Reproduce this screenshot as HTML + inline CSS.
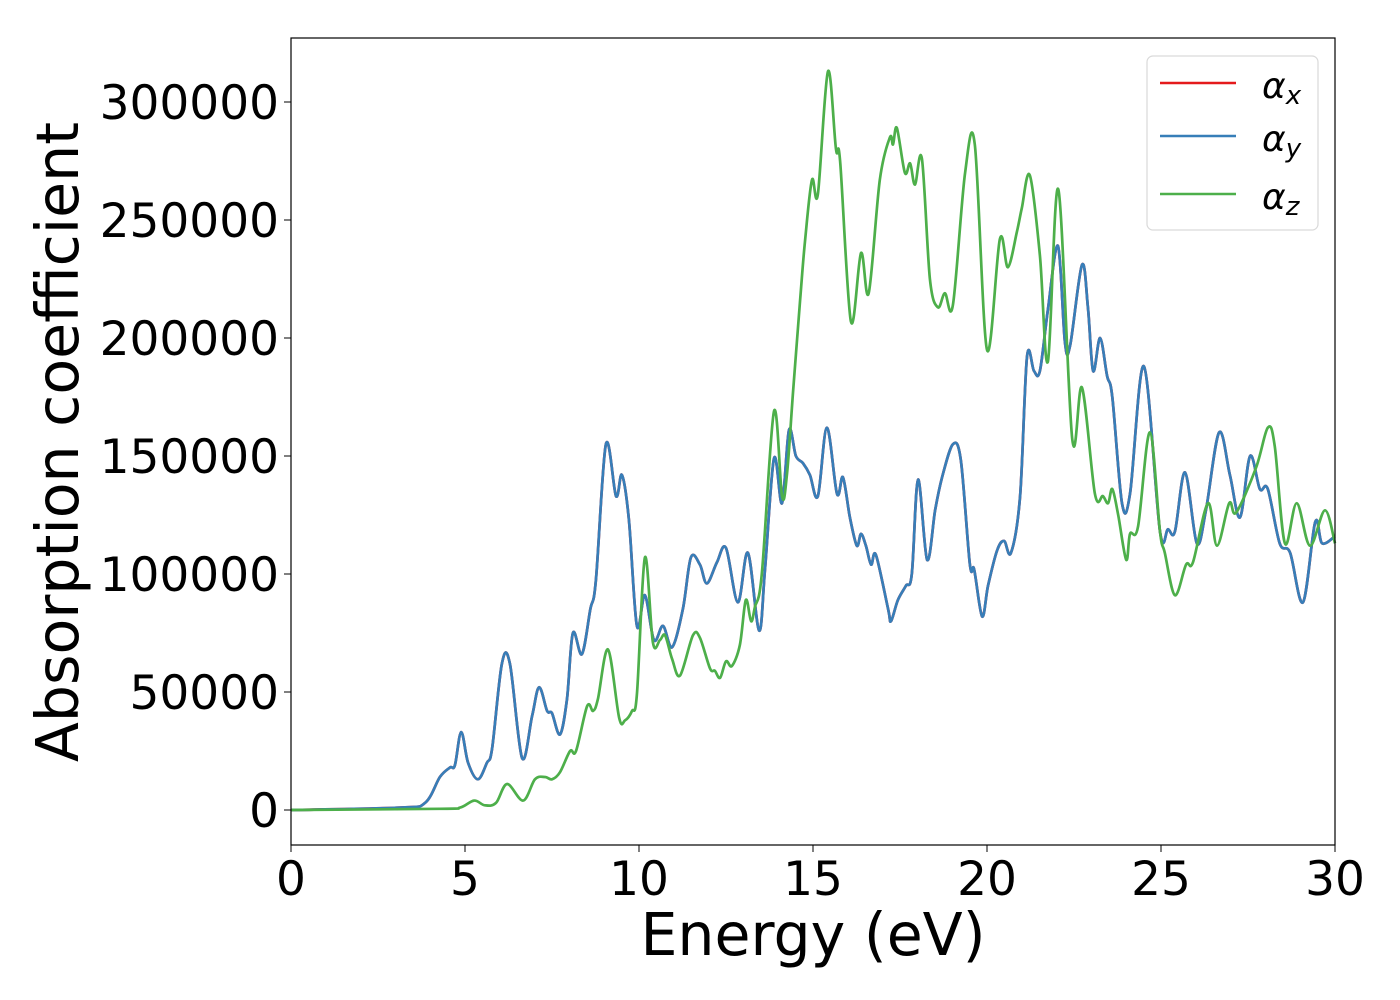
<!DOCTYPE html>
<html><head><meta charset="utf-8"><style>
body{margin:0;background:#fff;}
svg{display:block;font-family:"DejaVu Sans","Liberation Sans",sans-serif;}
</style></head><body>
<svg id="chart" width="1400" height="1000" viewBox="0 0 1400 1000" xmlns="http://www.w3.org/2000/svg">
<rect width="1400" height="1000" fill="#fff"/>
<g id="plot"></g>
<rect x="291" y="38" width="1044" height="807" fill="none" stroke="#000" stroke-width="1.2"/>
<g id="xticks"></g>
<g id="yticks"></g>
<text x="813" y="955" font-size="58.5" text-anchor="middle">Energy (eV)</text>
<text transform="translate(78,442) rotate(-90)" font-size="58.5" text-anchor="middle">Absorption coefficient</text>
<g>
<rect x="1147" y="56" width="171" height="174" rx="6" fill="#fff" fill-opacity="0.8" stroke="#d9d9d9" stroke-width="1.2"/>
<line x1="1160" y1="83" x2="1236" y2="83" stroke="#e41a1c" stroke-width="2.5"/>
<line x1="1160" y1="136" x2="1236" y2="136" stroke="#377eb8" stroke-width="2.5"/>
<line x1="1160" y1="194" x2="1236" y2="194" stroke="#4daf4a" stroke-width="2.5"/>
<text x="1262" y="98" font-size="36" font-style="italic">α<tspan font-size="26" dy="6">x</tspan></text>
<text x="1262" y="151" font-size="36" font-style="italic">α<tspan font-size="26" dy="6">y</tspan></text>
<text x="1262" y="209" font-size="36" font-style="italic">α<tspan font-size="26" dy="6">z</tspan></text>
</g>
</svg>
<script>
const xTicks=[0,5,10,15,20,25,30];
const yTicks=[0,50000,100000,150000,200000,250000,300000];
const energyXY=[0,3.13,3.85,4.28,4.57,4.71,4.89,5.09,5.37,5.63,5.78,6.06,6.29,6.64,6.93,7.13,7.36,7.5,7.73,7.93,8.1,8.36,8.6,8.76,9.05,9.34,9.51,9.71,9.94,10.17,10.43,10.69,10.95,11.26,11.49,11.75,11.95,12.24,12.5,12.84,13.13,13.45,13.62,13.88,14.11,14.31,14.51,14.71,14.91,15.14,15.4,15.69,15.86,16.06,16.26,16.38,16.52,16.67,16.81,17.16,17.24,17.44,17.67,17.84,18.02,18.28,18.51,18.71,19.02,19.25,19.51,19.63,19.86,20.03,20.29,20.49,20.69,20.95,21.15,21.35,21.52,21.75,22.04,22.24,22.39,22.73,22.9,23.05,23.25,23.45,23.6,23.88,24.11,24.51,24.97,25.2,25.4,25.69,26.03,26.29,26.67,26.98,27.27,27.56,27.84,28.07,28.41,28.71,29.08,29.43,29.63,30];
const alphaY=[0,1,3,14,18,19,33,20,13,20,26,62,62,22,40,52,42,41,32,47,75,66,85,97,155,133,142,123,78,91,72,78,69,85,107,104,96,105,111,88,109,76,102,149,130,161,150,147,142,133,162,134,141,124,112,117,112,104,108,85,80,89,95,100,140,106,127,141,155,148,104,102,82,95,110,114,109,133,192,186,186,212,239,198,197,231,213,186,200,184,175,130,134,188,118,119,118,143,113,127,160,142,124,150,136,136,113,109,88,122,113,116];
const alphaX=alphaY.slice();
const energyZ=[0,4.28,4.86,5.26,5.57,5.89,6.21,6.67,7.01,7.3,7.5,7.73,8.02,8.19,8.51,8.68,8.82,9.11,9.43,9.6,9.8,9.94,10.17,10.4,10.6,10.75,10.95,11.18,11.55,11.75,12.04,12.18,12.33,12.5,12.67,12.9,13.07,13.22,13.33,13.53,13.88,14.11,14.25,14.43,14.63,14.77,14.97,15.14,15.43,15.66,15.78,16.09,16.38,16.6,16.92,17.21,17.3,17.41,17.64,17.79,17.93,18.13,18.36,18.59,18.79,19.02,19.37,19.65,20.0,20.37,20.6,20.86,21.0,21.23,21.52,21.75,22.05,22.45,22.73,23.1,23.33,23.48,23.6,23.77,24.0,24.11,24.34,24.68,24.97,25.11,25.4,25.72,25.92,26.35,26.61,26.96,27.16,27.73,28.07,28.27,28.56,28.9,29.28,29.71,30];
const alphaZ=[0,0.5,1,4,2,3,11,4,13,14,13,16,25,25,44,42,47,68,39,38,42,49,107,71,72,74,64,57,74,73,60,59,56,63,61,70,89,80,86,100,169,133,142,178,216,241,267,261,313,280,275,207,236,219,267,285,282,289,270,274,265,276,225,213,219,214,270,282,195,242,230,245,255,269,235,190,263,157,179,134,133,130,136,125,106,117,120,160,118,109,91,104,105,130,112,130,126,145,162,154,113,130,112,127,113];

const X0=291,X1=1335,Y0=810,Ypx=0.00236;
function sx(e){return X0+(e-0)/(30-0)*(X1-X0);}
function sy(v){return Y0-v*Ypx;}
const NS='http://www.w3.org/2000/svg';
function pathFrom(es,vs,scale){
  const p=es.map((e,i)=>[sx(e),sy(vs[i]*scale)]);
  let d='M'+p[0][0].toFixed(1)+','+p[0][1].toFixed(1);
  for(let i=0;i<p.length-1;i++){
    const a=p[Math.max(i-1,0)],b=p[i],c=p[i+1],n=p[Math.min(i+2,p.length-1)];
    const t=1/6;
    const c1=[b[0]+(c[0]-a[0])*t,b[1]+(c[1]-a[1])*t];
    const c2=[c[0]-(n[0]-b[0])*t,c[1]-(n[1]-b[1])*t];
    d+='C'+c1[0].toFixed(1)+','+c1[1].toFixed(1)+' '+c2[0].toFixed(1)+','+c2[1].toFixed(1)+' '+c[0].toFixed(1)+','+c[1].toFixed(1);
  }
  return d;
}
const plot=document.getElementById('plot');
function addLine(es,vs,color,name){
  const el=document.createElementNS(NS,'path');
  el.setAttribute('d',pathFrom(es,vs,1000));
  el.setAttribute('fill','none');el.setAttribute('stroke',color);el.setAttribute('stroke-width','2.7');
  el.setAttribute('stroke-linejoin','round');
  
  
  plot.appendChild(el);
}
addLine(energyXY,alphaX,'#e41a1c','alpha-x-line');
addLine(energyXY,alphaY,'#377eb8','alpha-y-line');
addLine(energyZ,alphaZ,'#4daf4a','alpha-z-line');

const xg=document.getElementById('xticks');
xTicks.forEach(t=>{
  const l=document.createElementNS(NS,'line');
  l.setAttribute('x1',sx(t));l.setAttribute('x2',sx(t));l.setAttribute('y1',845);l.setAttribute('y2',852);l.setAttribute('stroke','#000');
  
  
  xg.appendChild(l);
  const tx=document.createElementNS(NS,'text');
  tx.setAttribute('x',sx(t));tx.setAttribute('y',895);tx.setAttribute('font-size','47');tx.setAttribute('text-anchor','middle');
  tx.textContent=t;
  
  
  xg.appendChild(tx);
});
const yg=document.getElementById('yticks');
yTicks.forEach(t=>{
  const l=document.createElementNS(NS,'line');
  l.setAttribute('x1',284);l.setAttribute('x2',291);l.setAttribute('y1',sy(t));l.setAttribute('y2',sy(t));l.setAttribute('stroke','#000');
  
  
  yg.appendChild(l);
  const tx=document.createElementNS(NS,'text');
  tx.setAttribute('x',279);tx.setAttribute('y',sy(t)+17);tx.setAttribute('font-size','47');tx.setAttribute('text-anchor','end');
  tx.textContent=t;
  
  
  yg.appendChild(tx);
});
</script>
</body></html>
